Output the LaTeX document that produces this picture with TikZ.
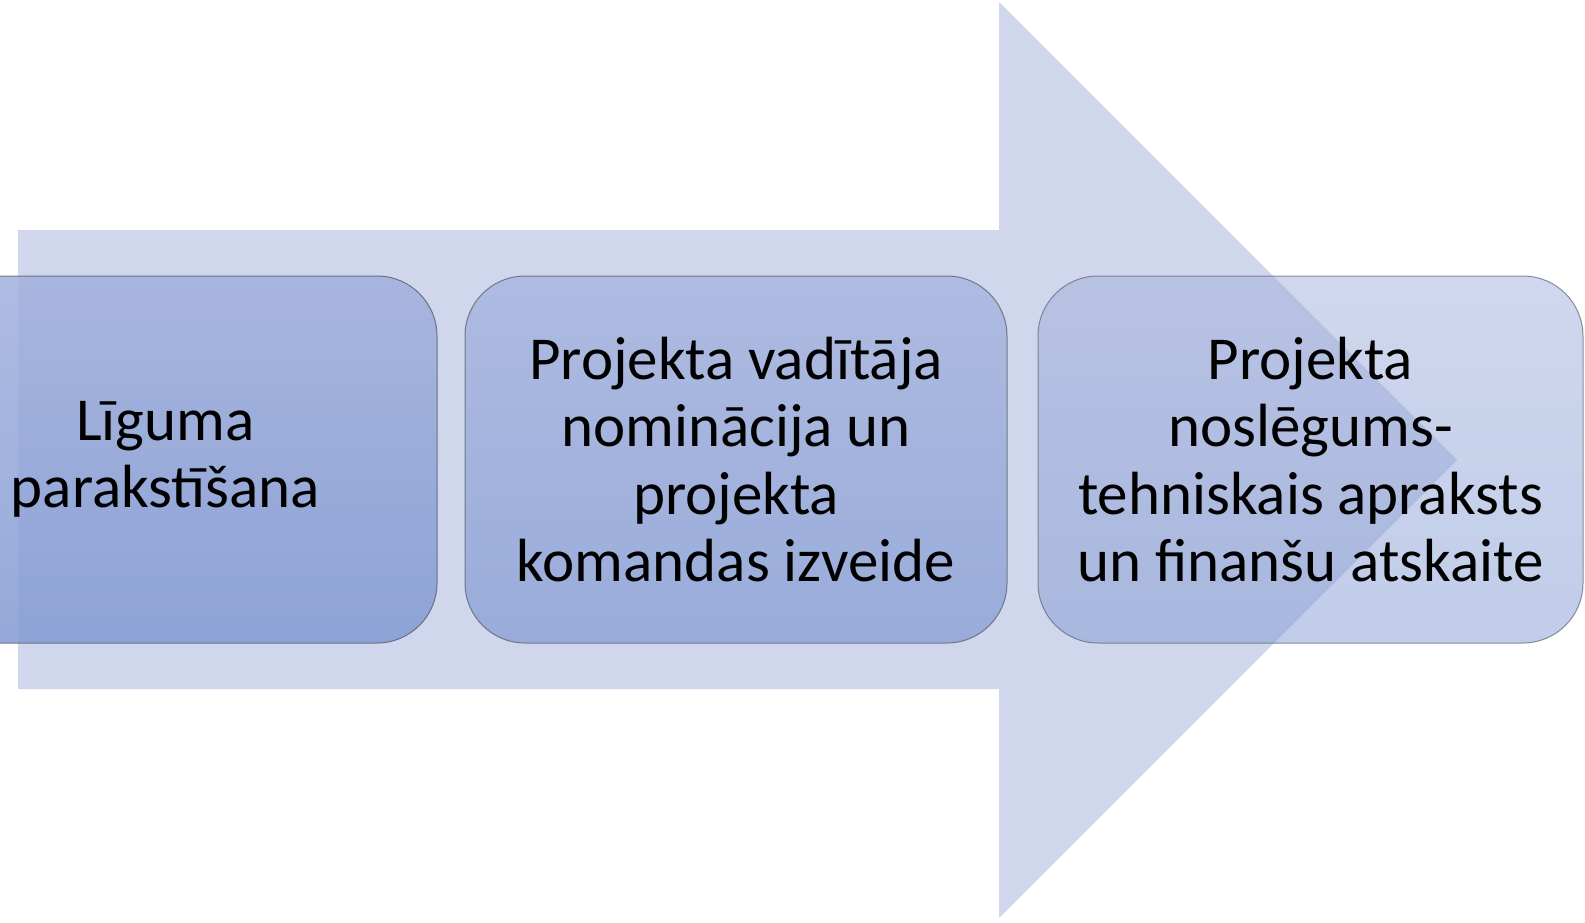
\documentclass[tikz,border=0pt]{standalone}
\usepackage{fontspec}
\setmainfont{Carlito}
\definecolor{arrowfill}{RGB}{208,214,235}
\definecolor{boxtop}{RGB}{161,176,221}
\definecolor{boxbot}{RGB}{130,154,211}
\definecolor{boxline}{RGB}{95,100,115}
\begin{document}
\begin{tikzpicture}[x=1pt,y=-1pt,
  stagebox/.style={shape=rectangle, rounded corners=60pt, draw=boxline, line width=1pt,
    top color=boxtop, bottom color=boxbot, minimum height=367pt, inner sep=0pt,
    align=center, text=black, text opacity=1,
    font=\fontsize{61}{67.5}\selectfont}]
\useasboundingbox (0,0) rectangle (1585,922);
% big arrow
\fill[arrowfill] (18,230) -- (999,230) -- (999,2) -- (1457,460) -- (999,918)
  -- (999,689) -- (18,689) -- cycle;
% boxes
\node[stagebox, minimum width=543pt, fill opacity=0.85, draw opacity=0.85] (b1) at (165.5,459.5)
  {Līguma\\parakstīšana};
\node[stagebox, minimum width=542pt, fill opacity=0.7, draw opacity=0.8] (b2) at (736,459.5)
  {Projekta vadītāja\\nominācija un\\projekta\\komandas izveide};
\node[stagebox, minimum width=545pt, fill opacity=0.5, draw opacity=0.7] (b3) at (1310.5,459.5)
  {Projekta\\noslēgums-\\tehniskais apraksts\\un finanšu atskaite};
\end{tikzpicture}
\end{document}
